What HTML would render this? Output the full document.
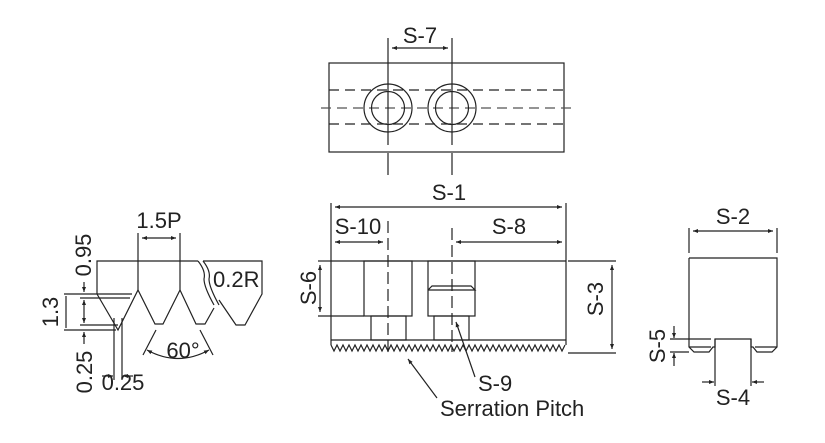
<!DOCTYPE html>
<html><head><meta charset="utf-8"><style>
html,body{margin:0;padding:0;background:#fff;width:825px;height:443px;overflow:hidden}
svg{display:block}
text{font-family:"Liberation Sans",Arial,sans-serif;fill:#222}
</style></head><body>
<svg width="825" height="443" viewBox="0 0 825 443" xmlns="http://www.w3.org/2000/svg">
<defs>
<marker id="a" viewBox="0 0 10 10" refX="10" refY="5" markerWidth="7" markerHeight="5" orient="auto-start-reverse" markerUnits="userSpaceOnUse"><path d="M0,1 L10,5 L0,9 Z" fill="#222"/></marker>
</defs>
<g stroke="#222" stroke-width="1.2" fill="none">
<rect x="329" y="63" width="235" height="89"/>
<g stroke-dasharray="10,6">
<line x1="329" y1="90" x2="564" y2="90"/>
<line x1="329" y1="124" x2="564" y2="124"/>
<line x1="321" y1="108" x2="573" y2="108" stroke="#555"/>
</g>
<circle cx="388" cy="108" r="24"/><circle cx="388" cy="108" r="16.5"/>
<circle cx="452" cy="108" r="24"/><circle cx="452" cy="108" r="16.5"/>
<line x1="388" y1="38" x2="388" y2="145"/><line x1="388" y1="153" x2="388" y2="175"/>
<line x1="452" y1="38" x2="452" y2="145"/><line x1="452" y1="153" x2="452" y2="175"/>
<line x1="392" y1="48" x2="448" y2="48" marker-start="url(#a)" marker-end="url(#a)"/>

<line x1="331" y1="203" x2="331" y2="345"/>
<line x1="566" y1="203" x2="566" y2="345"/>
<line x1="331" y1="261" x2="566" y2="261"/>
<line x1="331" y1="340" x2="566" y2="340"/>
<path d="M331,345 l3,6 l3,-6 l3,6 l3,-6 l3,6 l3,-6 l3,6 l3,-6 l3,6 l3,-6 l3,6 l3,-6 l3,6 l3,-6 l3,6 l3,-6 l3,6 l3,-6 l3,6 l3,-6
 l3,6 l3,-6 l3,6 l3,-6 l3,6 l3,-6 l3,6 l3,-6 l3,6 l3,-6 l3,6 l3,-6 l3,6 l3,-6 l3,6 l3,-6 l3,6 l3,-6 l3,6 l3,-6
 l3,6 l3,-6 l3,6 l3,-6 l3,6 l3,-6 l3,6 l3,-6 l3,6 l3,-6 l3,6 l3,-6 l3,6 l3,-6 l3,6 l3,-6 l3,6 l3,-6 l3,6 l3,-6
 l3,6 l3,-6 l3,6 l3,-6 l3,6 l3,-6 l3,6 l3,-6 l3,6 l3,-6 l3,6 l3,-6 l3,6 l3,-6 l3,6 l3,-6 l3,6 l3,-6"/>
<line x1="335" y1="207" x2="562" y2="207" marker-start="url(#a)" marker-end="url(#a)"/>
<line x1="335" y1="242" x2="383" y2="242" marker-start="url(#a)" marker-end="url(#a)"/>
<line x1="456" y1="242" x2="562" y2="242" marker-start="url(#a)" marker-end="url(#a)"/>
<line x1="388" y1="221" x2="388" y2="352" stroke-dasharray="12,5"/>
<line x1="452" y1="228" x2="452" y2="352" stroke-dasharray="12,5"/>
<rect x="364" y="261" width="48" height="55"/>
<rect x="371" y="316" width="35" height="24"/>
<rect x="428" y="261" width="47" height="55"/>
<rect x="434" y="316" width="35" height="24"/>
<polyline points="428,290 432,286 471,286 475,290 428,290"/>
<line x1="318" y1="261" x2="331" y2="261"/>
<line x1="318" y1="316" x2="364" y2="316"/>
<line x1="320" y1="265" x2="320" y2="312" marker-start="url(#a)" marker-end="url(#a)"/>
<line x1="568" y1="261" x2="616" y2="261"/>
<line x1="568" y1="353" x2="616" y2="353"/>
<line x1="612" y1="265" x2="612" y2="349" marker-start="url(#a)" marker-end="url(#a)"/>
<line x1="475" y1="377" x2="456" y2="322" marker-end="url(#a)"/>
<line x1="437" y1="398" x2="408" y2="359" marker-end="url(#a)"/>

<polyline points="198,261 97,261 97,294 118,330 138,290 155,324 163,324 180,290 196,324 205,324 214,308"/>
<path d="M198,261 q8,10 6,18 q0,8 10,26"/>
<path d="M203,261 q8,10 6,18 q0,8 10,26"/>
<polyline points="203,261 262,261 262,294 245,325 236,325 219,300"/>
<line x1="138" y1="233" x2="138" y2="290"/>
<line x1="180" y1="233" x2="180" y2="290"/>
<line x1="142" y1="238" x2="176" y2="238" marker-start="url(#a)" marker-end="url(#a)"/>
<line x1="64" y1="294" x2="132" y2="294"/>
<line x1="80" y1="298" x2="130" y2="298"/>
<line x1="80" y1="325" x2="118" y2="325"/>
<line x1="64" y1="330" x2="116" y2="330"/>
<line x1="66" y1="296" x2="66" y2="328"/>
<line x1="84" y1="300" x2="84" y2="323" marker-start="url(#a)" marker-end="url(#a)"/>
<line x1="84" y1="282" x2="84" y2="292" marker-end="url(#a)"/>
<line x1="84" y1="344" x2="84" y2="332" marker-end="url(#a)"/>
<line x1="114" y1="318" x2="114" y2="380"/>
<line x1="122" y1="318" x2="122" y2="380"/>
<line x1="102" y1="376" x2="113" y2="376" marker-end="url(#a)"/>
<line x1="133" y1="376" x2="123" y2="376" marker-end="url(#a)"/>
<line x1="156" y1="330" x2="143" y2="355"/>
<line x1="200" y1="330" x2="213" y2="355"/>
<path d="M147,350 Q178,367 209,350" marker-start="url(#a)" marker-end="url(#a)"/>

<polyline points="689,258 689,347 694,352 709,352 713,347 715,347 715,339 751,339 751,347 753,347 757,352 772,352 777,347 777,258 689,258"/>
<line x1="689" y1="347" x2="711" y2="347"/>
<line x1="755" y1="347" x2="777" y2="347"/>
<line x1="689" y1="228" x2="689" y2="253"/>
<line x1="777" y1="228" x2="777" y2="253"/>
<line x1="693" y1="231" x2="773" y2="231" marker-start="url(#a)" marker-end="url(#a)"/>
<line x1="670" y1="339" x2="711" y2="339"/>
<line x1="670" y1="352" x2="689" y2="352"/>
<line x1="674" y1="326" x2="674" y2="338" marker-end="url(#a)"/>
<line x1="674" y1="366" x2="674" y2="353" marker-end="url(#a)"/>
<line x1="715" y1="339" x2="715" y2="386"/>
<line x1="751" y1="339" x2="751" y2="386"/>
<line x1="702" y1="382" x2="714" y2="382" marker-end="url(#a)"/>
<line x1="764" y1="382" x2="752" y2="382" marker-end="url(#a)"/>
</g>
<g font-size="22">
<text x="420" y="43" text-anchor="middle">S-7</text>
<text x="449" y="200" text-anchor="middle">S-1</text>
<text x="358" y="234" text-anchor="middle">S-10</text>
<text x="509" y="234" text-anchor="middle">S-8</text>
<text transform="translate(316,288) rotate(-90)" text-anchor="middle">S-6</text>
<text transform="translate(603,299) rotate(-90)" text-anchor="middle">S-3</text>
<text x="478" y="391">S-9</text>
<text x="440" y="416">Serration Pitch</text>
<text x="159" y="228" text-anchor="middle">1.5P</text>
<text x="213" y="287">0.2R</text>
<text x="183" y="358" text-anchor="middle">60°</text>
<text transform="translate(91,255) rotate(-90)" text-anchor="middle">0.95</text>
<text transform="translate(58,312) rotate(-90)" text-anchor="middle">1.3</text>
<text transform="translate(92,372) rotate(-90)" text-anchor="middle">0.25</text>
<text x="123" y="390" text-anchor="middle">0.25</text>
<text x="733" y="224" text-anchor="middle">S-2</text>
<text transform="translate(665,346) rotate(-90)" text-anchor="middle">S-5</text>
<text x="733" y="405" text-anchor="middle">S-4</text>
</g>
</svg>
</body></html>
